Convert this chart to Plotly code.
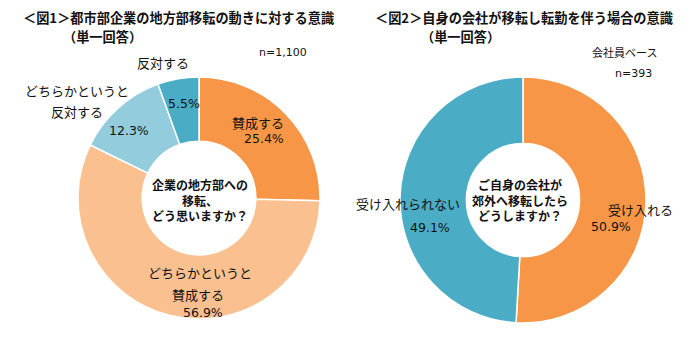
import plotly.graph_objects as go

W, H = 700, 340

# ---- data ----
fig1_labels = ["賛成する", "どちらかというと賛成する", "どちらかというと反対する", "反対する"]
fig1_values = [25.4, 56.9, 12.3, 5.5]
fig1_colors = ["#F79646", "#FAC090", "#93CDDD", "#4BACC6"]

fig2_labels = ["受け入れる", "受け入れられない"]
fig2_values = [50.9, 49.1]
fig2_colors = ["#F79646", "#4BACC6"]

title1 = "＜図1＞都市部企業の地方部移転の動きに対する意識"
title2 = "＜図2＞自身の会社が移転し転勤を伴う場合の意識"
subtitle = "（単一回答）"
center1 = "企業の地方部への<br>移転、<br>どう思いますか？"
center2 = "ご自身の会社が<br>郊外へ移転したら<br>どうしますか？"
n1 = "n=1,100"
n2_base = "会社員ベース"
n2 = "n=393"

JP = "Noto Sans CJK JP"
NUM = "DejaVu Sans"
TXT = "#111111"


def px(x, y):
    return x / W, 1 - y / H


def dom(cx, cy, r):
    return dict(x=[(cx - r) / W, (cx + r) / W], y=[1 - (cy + r) / H, 1 - (cy - r) / H])


fig = go.Figure()
fig.add_trace(go.Pie(
    labels=fig1_labels, values=fig1_values, sort=False, direction="clockwise",
    hole=0.47, marker=dict(colors=fig1_colors, line=dict(color="white", width=1.5)),
    textinfo="none", hoverinfo="label+percent", showlegend=False,
    domain=dom(199, 198, 121),
))
fig.add_trace(go.Pie(
    labels=fig2_labels, values=fig2_values, sort=False, direction="clockwise",
    hole=0.46, marker=dict(colors=fig2_colors, line=dict(color="white", width=1.5)),
    textinfo="none", hoverinfo="label+percent", showlegend=False,
    domain=dom(523, 200, 123),
))

anns = []


def add(text, x, y, size=13, family=JP, bold=False, xanchor="center", yanchor="middle", align="center"):
    xx, yy = px(x, y)
    if bold:
        text = "<b>" + text + "</b>"
    anns.append(dict(text=text, x=xx, y=yy, xref="paper", yref="paper",
                     showarrow=False, xanchor=xanchor, yanchor=yanchor, align=align,
                     font=dict(family=family, size=size, color=TXT)))


def pct(v):
    return f"{v:.1f}%"


# titles
add(title1, 21, 17, size=13.2, bold=True, xanchor="left")
add(subtitle, 61, 36.5, size=13.2, bold=True, xanchor="left")
add(title2, 373, 17, size=13.2, bold=True, xanchor="left")
add(subtitle, 419, 36.5, size=13.2, bold=True, xanchor="left")

# fig1 labels
add(n1, 283, 52, size=11, family=NUM)
add(fig1_labels[3], 163, 62)
add(pct(fig1_values[3]), 184, 103, size=12.5, family=NUM)
add("どちらかというと", 77, 91)
add("反対する", 77, 112)
add(pct(fig1_values[2]), 129, 130, size=12.5, family=NUM)
add(fig1_labels[0], 258, 122)
add(pct(fig1_values[0]), 264, 138, size=12.5, family=NUM)
add("どちらかというと", 200, 272)
add("賛成する", 198, 294)
add(pct(fig1_values[1]), 203, 312, size=12.5, family=NUM)
add(center1, 200, 200, size=12, bold=True)

# fig2 labels
add(n2_base, 624, 52, size=11)
add(n2, 633, 73, size=11, family=NUM)
add(fig2_labels[1], 408, 203)
add(pct(fig2_values[1]), 430, 227, size=12.5, family=NUM)
add(fig2_labels[0], 640, 209)
add(pct(fig2_values[0]), 611, 226, size=12.5, family=NUM)
add(center2, 520, 200, size=12, bold=True)

fig.update_layout(
    width=W, height=H, margin=dict(l=0, r=0, t=0, b=0),
    paper_bgcolor="white", plot_bgcolor="white",
    annotations=anns,
)
fig.write_html("out.html")
